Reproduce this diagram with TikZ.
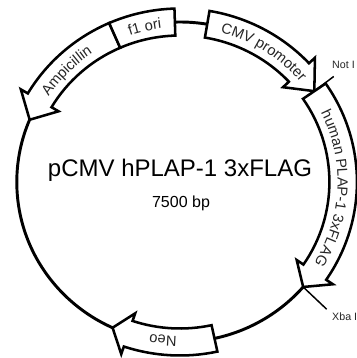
\documentclass[tikz,border=0pt]{standalone}
\usepackage{fontspec}
\setmainfont{Liberation Sans}
\usetikzlibrary{decorations.text}
\newcommand\arcfont{\fontsize{11pt}{13pt}\selectfont\color{black!85}}
\begin{document}
\begin{tikzpicture}[x=0.765pt,y=0.75pt,
  backbone/.style={line width=2.2pt},
  feat/.style={draw, fill=white, line width=1.9pt, line join=miter},
  site/.style={line width=1.1pt},
  sitelabel/.style={font=\fontsize{8pt}{9pt}\selectfont, text=black!85, anchor=base west, inner sep=0pt},
  arclabel/.style={decorate, decoration={text along path, text align=center, text={|\arcfont|#1}}}
]
\useasboundingbox (-176.47,-176) rectangle (173.53,182);
\clip (-176.47,-176) rectangle (173.53,182);
\coordinate (c) at (0,0);
% backbone
\draw[backbone] (c) circle[radius=160];
% Ampicillin (counterclockwise)
\draw[feat] (113.6:173.5) arc[start angle=113.6, end angle=149.3, radius=173.5] -- (149.3:181.5) -- (157.1:160) -- (149.3:138.5) -- (149.3:146.5) arc[start angle=149.3, end angle=113.6, radius=146.5] -- cycle;
% f1 ori
\draw[feat] (91.8:173.5) arc[start angle=91.8, end angle=113.6, radius=173.5] -- (113.6:146.5) arc[start angle=113.6, end angle=91.8, radius=146.5] -- cycle;
% CMV promoter
\draw[feat] (80.4:173.5) arc[start angle=80.4, end angle=43.2, radius=173.5] -- (43.2:181.5) -- (34.6:160) -- (43.2:138.5) -- (43.2:146.5) arc[start angle=43.2, end angle=80.4, radius=146.5] -- cycle;
% human PLAP-1 3xFLAG
\draw[feat] (34.6:173.5) arc[start angle=34.6, end angle=-34.3, radius=173.5] -- (-34.3:181.5) -- (-41:160) -- (-34.3:138.5) -- (-34.3:146.5) arc[start angle=-34.3, end angle=34.6, radius=146.5] -- cycle;
% Neo
\draw[feat] (-77.8:173.5) arc[start angle=-77.8, end angle=-108.5, radius=173.5] -- (-108.5:181.5) -- (-114.4:160) -- (-108.5:138.5) -- (-108.5:146.5) arc[start angle=-108.5, end angle=-77.8, radius=146.5] -- cycle;
% restriction sites
\coordinate (notIin) at (34.6:160);
\coordinate (notIout) at (35:184);
\draw[site] (notIin) -- (notIout);
\node[sitelabel] (notI) at (149,114) {Not I};
\coordinate (xbaIin) at (-41:160);
\coordinate (xbaIout) at (-41.5:192);
\draw[site] (xbaIin) -- (xbaIout);
\node[sitelabel] (xbaI) at (149,-138) {Xba I};
% feature labels
\path[arclabel={Ampicillin}] (180.3:154.5) arc[start angle=180.3, end angle=90.3, radius=154.5];
\path[arclabel={f1 ori}] (137.7:154.5) arc[start angle=137.7, end angle=67.7, radius=154.5];
\path[arclabel={CMV promoter}] (102.5:154.5) arc[start angle=102.5, end angle=12.5, radius=154.5];
\path[arclabel={human PLAP-1 3xFLAG}] (47.5:154.5) arc[start angle=47.5, end angle=-52.5, radius=154.5];
\path[arclabel={Neo}] (-51.1:154.5) arc[start angle=-51.1, end angle=-141.1, radius=154.5];
% centre text
\node[font=\fontsize{18pt}{20pt}\selectfont, anchor=base, inner sep=0pt] (title) at (0,6) {pCMV hPLAP-1 3xFLAG};
\node[font=\fontsize{12pt}{14pt}\selectfont, anchor=base, inner sep=0pt] (bp) at (1,-25) {7500 bp};
\end{tikzpicture}
\end{document}
